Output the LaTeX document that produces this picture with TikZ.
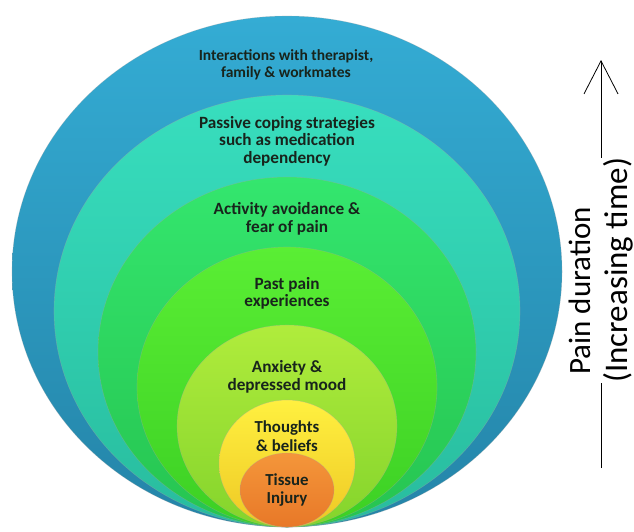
\documentclass[tikz,border=0pt]{standalone}
\usepackage{fontspec}
\setmainfont{Carlito}
\usetikzlibrary{arrows.meta,shapes.geometric}

% layer colours, light (top) and dark (bottom) of each ring
\definecolor{blueT}{RGB}{52,172,212}
\definecolor{blueB}{RGB}{36,132,168}
\definecolor{tealT}{RGB}{56,222,190}
\definecolor{tealB}{RGB}{40,188,158}
\definecolor{greenT}{RGB}{52,230,110}
\definecolor{greenB}{RGB}{38,196,80}
\definecolor{limeT}{RGB}{90,238,52}
\definecolor{limeB}{RGB}{60,208,36}
\definecolor{ylgnT}{RGB}{176,236,60}
\definecolor{ylgnB}{RGB}{132,212,44}
\definecolor{yellowT}{RGB}{255,240,64}
\definecolor{yellowB}{RGB}{238,200,36}
\definecolor{orangeT}{RGB}{244,150,58}
\definecolor{orangeB}{RGB}{232,120,40}
\definecolor{labeltext}{RGB}{24,36,28}

\begin{document}
\begin{tikzpicture}[x=1pt,y=-1pt,
  ring/.style={ellipse, inner sep=0pt, draw=black!35, draw opacity=0.35, line width=0.6pt},
  ringlabel/.style={align=center, text=labeltext, inner sep=0pt,
    font=\bfseries\fontsize{17.2}{17.5}\selectfont},
  timeaxis/.style={line width=0.8pt, -{Straight Barb[length=33pt,width=34pt]}}]

\useasboundingbox (0,0) rectangle (634,531);

% nested layers, all touching at the bottom
\node[ring, minimum width=550pt, minimum height=511pt, top color=blueT, bottom color=blueB]
  (interact) at (287,271.5) {};
\node[ring, minimum width=466pt, minimum height=432pt, top color=tealT, bottom color=tealB]
  (coping) at (287,311) {};
\node[ring, minimum width=378pt, minimum height=350pt, top color=greenT, bottom color=greenB]
  (avoid) at (287,352) {};
\node[ring, minimum width=300pt, minimum height=280pt, top color=limeT, bottom color=limeB]
  (past) at (287,387) {};
\node[ring, minimum width=220pt, minimum height=202pt, top color=ylgnT, bottom color=ylgnB]
  (anxiety) at (287,426) {};
\node[ring, minimum width=136pt, minimum height=127pt, top color=yellowT, bottom color=yellowB]
  (thoughts) at (287,463.5) {};
\node[ring, minimum width=94pt, minimum height=74pt, top color=orangeT, bottom color=orangeB]
  (tissue) at (287,490) {};

% layer labels
\node[ringlabel, font=\bfseries\fontsize{15.5}{16.5}\selectfont] (tInteract) at (286,65)
  {Interactions with therapist,\\family \& workmates};
\node[ringlabel] (tCoping) at (287,141) {Passive coping strategies\\such as medication\\dependency};
\node[ringlabel] (tAvoid) at (287,219) {Activity avoidance \&\\fear of pain};
\node[ringlabel] (tPast) at (287,293.5) {Past pain\\experiences};
\node[ringlabel, font=\bfseries\fontsize{17.2}{18}\selectfont] (tAnxiety) at (287,377) {Anxiety \&\\depressed mood};
\node[ringlabel, font=\bfseries\fontsize{16.8}{19}\selectfont] (tThoughts) at (287,436) {Thoughts\\\& beliefs};
\node[ringlabel, font=\bfseries\fontsize{16.8}{18}\selectfont] (tTissue) at (287,490) {Tissue\\Injury};

% time axis, partly covered by its label
\coordinate (axisStart) at (601,468);
\coordinate (axisEnd) at (601,60);
\draw[timeaxis] (axisStart) -- (axisEnd);
\node[rotate=90, anchor=base west, fill=white, inner sep=0pt, text height=30pt,
  font=\fontsize{33}{40}\selectfont] (axisTime) at (627,383) {(Increasing time)};
\node[rotate=90, anchor=base west, inner sep=0pt,
  font=\fontsize{31}{40}\selectfont] (axisLabel) at (590,375) {Pain duration};

\end{tikzpicture}
\end{document}
